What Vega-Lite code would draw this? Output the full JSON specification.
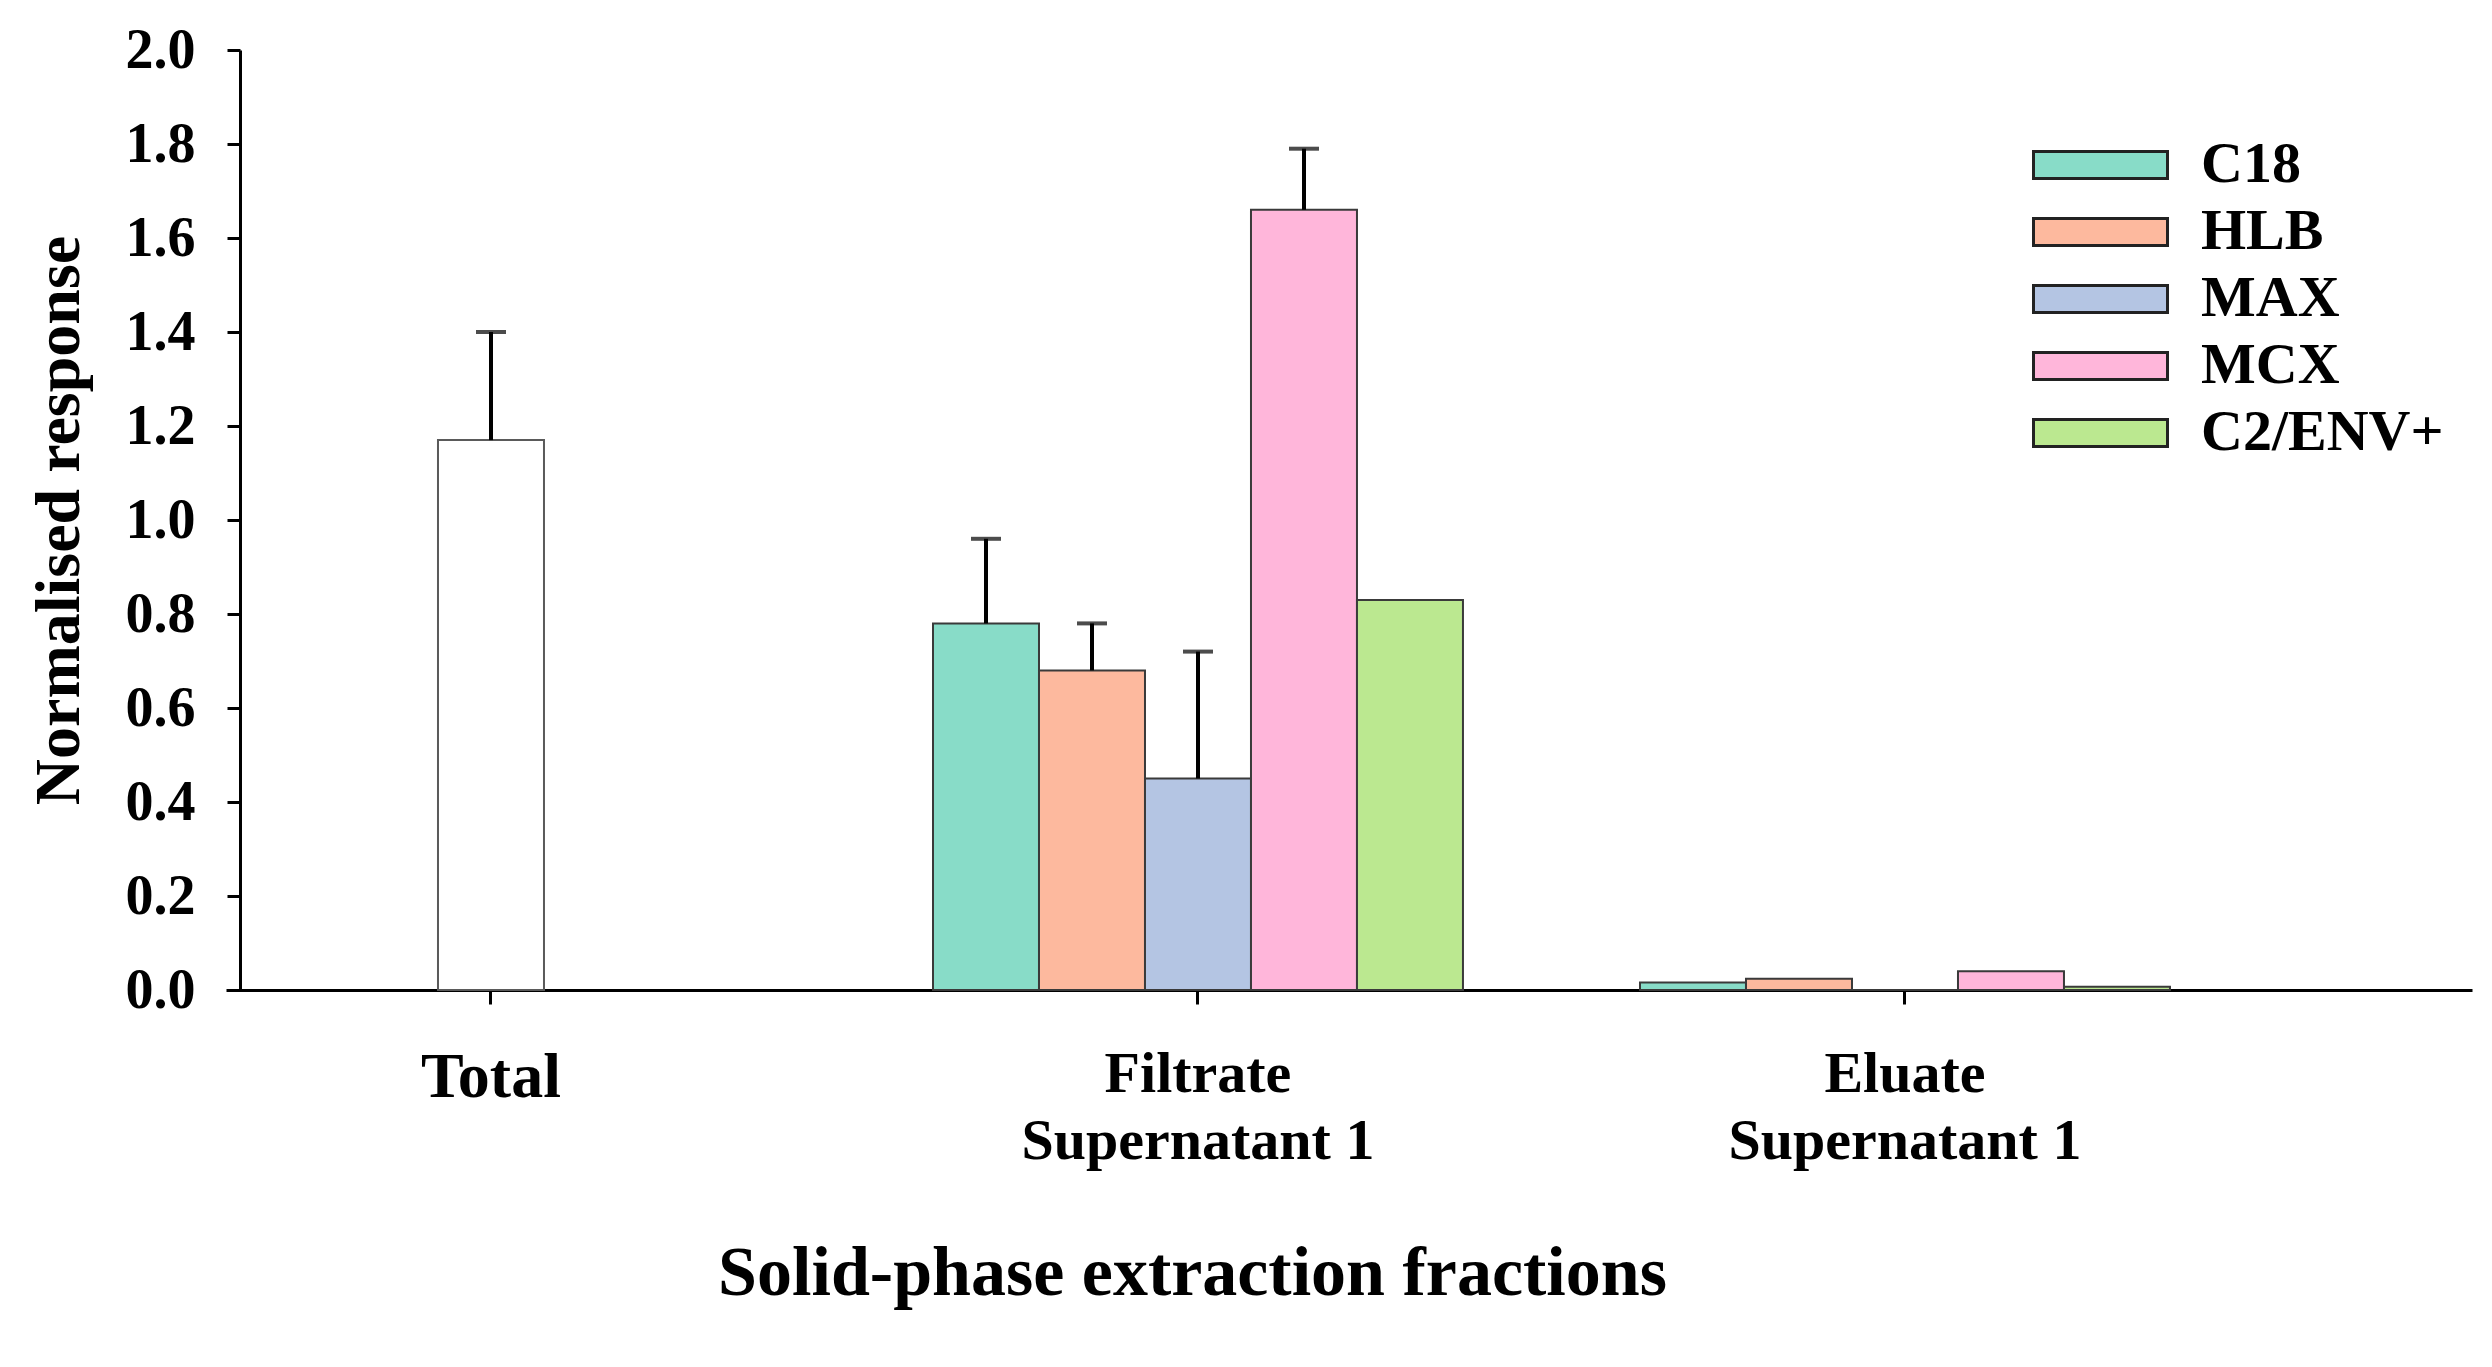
{
  "$schema": "https://vega.github.io/schema/vega-lite/v6.json",
  "autosize": {"type": "none"},
  "padding": {"left": 226, "top": 50, "right": 20, "bottom": 377},
  "width": 2246,
  "height": 940,
  "background": "white",
  "config": {
    "font": "Liberation Serif",
    "view": {"stroke": null}
  },
  "data": {
    "values": [
      {"fraction": "Total", "series": "Total", "value": 1.17, "upper": 1.40},
      {"fraction": "Filtrate|Supernatant 1", "series": "C18", "value": 0.78, "upper": 0.96},
      {"fraction": "Filtrate|Supernatant 1", "series": "HLB", "value": 0.68, "upper": 0.78},
      {"fraction": "Filtrate|Supernatant 1", "series": "MAX", "value": 0.45, "upper": 0.72},
      {"fraction": "Filtrate|Supernatant 1", "series": "MCX", "value": 1.66, "upper": 1.79},
      {"fraction": "Filtrate|Supernatant 1", "series": "C2/ENV+", "value": 0.83, "upper": null},
      {"fraction": "Eluate|Supernatant 1", "series": "C18", "value": 0.016, "upper": null},
      {"fraction": "Eluate|Supernatant 1", "series": "HLB", "value": 0.024, "upper": null},
      {"fraction": "Eluate|Supernatant 1", "series": "MAX", "value": 0.0, "upper": null},
      {"fraction": "Eluate|Supernatant 1", "series": "MCX", "value": 0.04, "upper": null},
      {"fraction": "Eluate|Supernatant 1", "series": "C2/ENV+", "value": 0.007, "upper": null}
    ]
  },
  "encoding": {
    "x": {
      "field": "fraction",
      "type": "nominal",
      "sort": null,
      "scale": {"type": "band", "domain": ["Total", "Filtrate|Supernatant 1", "Eluate|Supernatant 1"], "paddingInner": 0.2504, "paddingOuter": 0.2136, "align": 0},
      "axis": {
        "title": "Solid-phase extraction fractions",
        "titleFontSize": 70,
        "titleFontWeight": "bold",
        "titleColor": "black",
        "titleX": 966,
        "titleY": 304,
        "titleAlign": "center",
        "titleBaseline": "alphabetic",
        "labelAngle": 0,
        "labelExpr": "split(datum.label, '|')",
        "labelFontSize": {"condition": {"test": "datum.value == 'Total'", "value": 64}, "value": 58},
        "labelFontWeight": "bold",
        "labelColor": "black",
        "labelLineHeight": 67,
        "labelPadding": 41,
        "labelBaseline": "top",
        "labelLimit": 800,
        "domainColor": "black",
        "domainWidth": 3,
        "tickColor": "black",
        "tickWidth": 3,
        "tickSize": 14
      }
    },
    "y": {
      "field": "value",
      "type": "quantitative",
      "title": "Normalised response",
      "scale": {"domain": [0, 2], "nice": false},
      "axis": {
        "values": [0, 0.2, 0.4, 0.6, 0.8, 1.0, 1.2, 1.4, 1.6, 1.8, 2.0],
        "format": ".1f",
        "grid": false,
        "offset": -14,
        "labelFontSize": 56,
        "labelFontWeight": "bold",
        "labelColor": "black",
        "labelPadding": 32,
        "domainColor": "black",
        "domainWidth": 3,
        "tickColor": "black",
        "tickWidth": 3,
        "tickSize": 13,
        "titleFontSize": 64,
        "titleFontWeight": "bold",
        "titleColor": "black",
        "titleAngle": -90,
        "titleX": -181,
        "titleY": 470,
        "titleAlign": "center",
        "titleBaseline": "middle"
      }
    }
  },
  "layer": [
    {
      "transform": [{"filter": "datum.series == 'Total'"}],
      "mark": {"type": "bar", "width": {"band": 0.2}, "fill": "white", "stroke": "#5a5a5a", "strokeWidth": 2}
    },
    {
      "transform": [{"filter": "datum.series == 'Total'"}],
      "mark": {"type": "rule", "color": "black", "strokeWidth": 4},
      "encoding": {"y2": {"field": "upper"}}
    },
    {
      "transform": [{"filter": "datum.series == 'Total'"}],
      "mark": {"type": "tick", "orient": "horizontal", "size": 30, "thickness": 4, "color": "black"},
      "encoding": {"y": {"field": "upper", "type": "quantitative", "title": "Normalised response"}}
    },
    {
      "transform": [{"filter": "datum.series != 'Total'"}],
      "mark": {"type": "bar", "stroke": "#3a3a3a", "strokeWidth": 2},
      "encoding": {
        "xOffset": {"field": "series", "type": "nominal", "sort": null, "scale": {"domain": ["C18", "HLB", "MAX", "MCX", "C2/ENV+"]}},
        "color": {
          "field": "series",
          "type": "nominal",
          "sort": null,
          "scale": {"domain": ["C18", "HLB", "MAX", "MCX", "C2/ENV+"], "range": ["#88dcc8", "#fdb99e", "#b4c5e3", "#ffb6da", "#bbe890"]},
          "legend": {
            "title": null,
            "orient": "none",
            "legendX": 1806,
            "legendY": 86,
            "padding": 0,
            "clipHeight": 58,
            "symbolType": "M-1,-0.2H1V0.2H-1Z",
            "symbolSize": 17956,
            "symbolStrokeColor": "#222222",
            "symbolStrokeWidth": 3,
            "symbolOpacity": 1,
            "labelFontSize": 58,
            "labelFontWeight": "bold",
            "labelColor": "black",
            "labelOffset": 32,
            "labelLimit": 400,
            "rowPadding": 9
          }
        }
      }
    },
    {
      "transform": [{"filter": "datum.series != 'Total' && isValid(datum.upper)"}],
      "mark": {"type": "rule", "color": "black", "strokeWidth": 4},
      "encoding": {
        "xOffset": {"field": "series", "type": "nominal", "sort": null},
        "y2": {"field": "upper"}
      }
    },
    {
      "transform": [{"filter": "datum.series != 'Total' && isValid(datum.upper)"}],
      "mark": {"type": "tick", "orient": "horizontal", "size": 30, "thickness": 4, "color": "black"},
      "encoding": {
        "xOffset": {"field": "series", "type": "nominal", "sort": null},
        "y": {"field": "upper", "type": "quantitative", "title": "Normalised response"}
      }
    }
  ]
}
